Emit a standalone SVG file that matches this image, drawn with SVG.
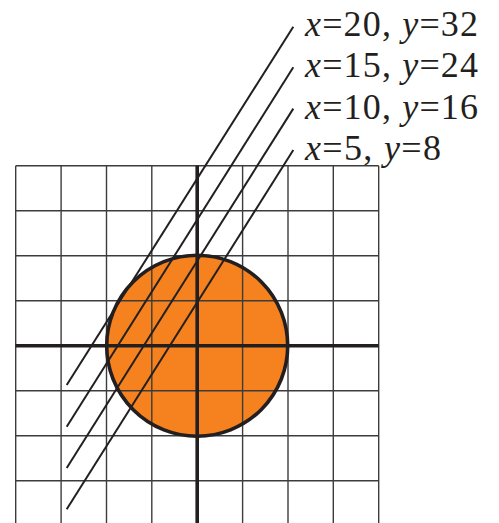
<svg xmlns="http://www.w3.org/2000/svg" width="499" height="523" viewBox="0 0 499 523">
<style>
.grid{stroke:#3c3c3c;stroke-width:1.4;fill:none}
.axis{stroke:#231f20;stroke-width:3.6;fill:none}
.ring{stroke:#231f20;stroke-width:3.6;fill:none}
.diag{stroke:#231f20;stroke-width:2;fill:none}
.lbl{font-family:"Liberation Serif","Times New Roman",serif;font-size:36px;fill:#231f20}
.it{font-style:italic}
</style>
<rect width="499" height="523" fill="#ffffff"/>
<g id="disk-fill">
<circle cx="197.2" cy="345.7" r="90.5" fill="#f5821f"/>
</g>
<g id="grid" class="grid">
<line x1="15.7" y1="165.7" x2="15.7" y2="530"/>
<line x1="61.1" y1="165.7" x2="61.1" y2="530"/>
<line x1="106.5" y1="165.7" x2="106.5" y2="530"/>
<line x1="151.8" y1="165.7" x2="151.8" y2="530"/>
<line x1="242.6" y1="165.7" x2="242.6" y2="530"/>
<line x1="288.0" y1="165.7" x2="288.0" y2="530"/>
<line x1="333.3" y1="165.7" x2="333.3" y2="530"/>
<line x1="378.7" y1="165.7" x2="378.7" y2="530"/>
<line x1="15.7" y1="165.7" x2="378.7" y2="165.7"/>
<line x1="15.7" y1="210.7" x2="378.7" y2="210.7"/>
<line x1="15.7" y1="255.7" x2="378.7" y2="255.7"/>
<line x1="15.7" y1="300.7" x2="378.7" y2="300.7"/>
<line x1="15.7" y1="390.7" x2="378.7" y2="390.7"/>
<line x1="15.7" y1="435.7" x2="378.7" y2="435.7"/>
<line x1="15.7" y1="480.7" x2="378.7" y2="480.7"/>
</g>
<g id="axes" class="axis">
<line x1="15.7" y1="345.7" x2="378.7" y2="345.7"/>
<line x1="197.2" y1="165.7" x2="197.2" y2="530"/>
</g>
<g id="disk-outline">
<circle class="ring" cx="197.2" cy="345.7" r="90.5"/>
</g>
<g id="connectors" class="diag">
<line x1="66.7" y1="385" x2="293.3" y2="26.7"/>
<line x1="66.7" y1="426.7" x2="293.3" y2="67.3"/>
<line x1="66.7" y1="468" x2="293.3" y2="108.6"/>
<line x1="66.7" y1="509.3" x2="293.3" y2="150"/>
</g>
<g id="label-20" class="lbl"><text x="305" y="36" textLength="173" lengthAdjust="spacing"><tspan class="it">x</tspan>=20, <tspan class="it">y</tspan>=32</text></g>
<g id="label-15" class="lbl"><text x="305" y="77.3" textLength="173" lengthAdjust="spacing"><tspan class="it">x</tspan>=15, <tspan class="it">y</tspan>=24</text></g>
<g id="label-10" class="lbl"><text x="305" y="118.6" textLength="173" lengthAdjust="spacing"><tspan class="it">x</tspan>=10, <tspan class="it">y</tspan>=16</text></g>
<g id="label-5" class="lbl"><text x="305" y="160" textLength="136" lengthAdjust="spacing"><tspan class="it">x</tspan>=5, <tspan class="it">y</tspan>=8</text></g>
</svg>
